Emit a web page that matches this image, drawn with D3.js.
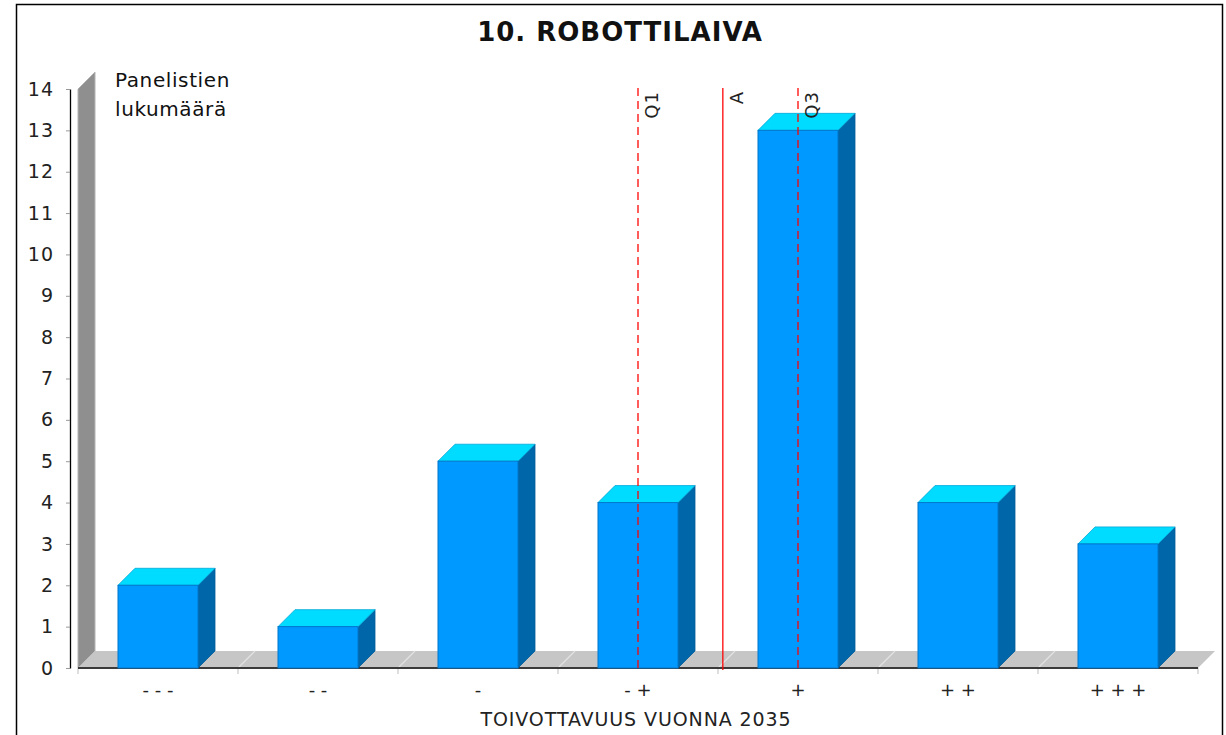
<!DOCTYPE html>
<html>
<head>
<meta charset="utf-8">
<script src="https://cdn.jsdelivr.net/npm/d3@7/dist/d3.min.js"></script>
<style>
  html, body { margin: 0; padding: 0; background: #fff; }
  svg { display: block; }
  text { font-family: "DejaVu Sans", Verdana, sans-serif; }
</style>
</head>
<body>
<svg id="chart" width="1226" height="735"></svg>
<script>
// Panel answers per desirability class
const categories = ["- - -", "- -", "-", "- +", "+", "+ +", "+ + +"];
const counts = [2, 1, 5, 4, 13, 4, 3];
const yTicks = [0, 1, 2, 3, 4, 5, 6, 7, 8, 9, 10, 11, 12, 13, 14];
// Quartiles and average on the 1..7 class scale
const markerLabels = ["Q1", "A", "Q3"];
const markerValues = [4, 4.53, 5];
const markerDashed = [true, false, true];

const titleText = "10. ROBOTTILAIVA";
const yLabelLines = ["Panelistien", "lukumäärä"];
const xLabelText = "TOIVOTTAVUUS VUONNA 2035";

const plotLeft = 78, plotRight = 1198, plotBottom = 668, plotTop = 89;
const depthX = 17, depthY = 17;

const svg = d3.select("#chart");

// outer frame
svg.append("rect")
  .attr("x", 16.5).attr("y", 4.5)
  .attr("width", 1206).attr("height", 800)
  .attr("fill", "#fff").attr("stroke", "#000").attr("stroke-width", 1.5);

const x = d3.scaleBand().domain(categories).range([plotLeft, plotRight])
  .paddingInner(0.5).paddingOuter(0.25);
const y = d3.scaleLinear().domain([0, 14]).range([plotBottom, plotTop]);
const pos = d3.scaleLinear().domain([0.5, categories.length + 0.5]).range([plotLeft, plotRight]);

// back wall (left side)
svg.append("polygon")
  .attr("points", [[plotLeft, plotBottom], [plotLeft, plotTop], [plotLeft + depthX, plotTop - depthY], [plotLeft + depthX, plotBottom - depthY]].join(" "))
  .attr("fill", "#8f8f8f").attr("stroke", "#b4b4b4").attr("stroke-width", 1);

// floor
svg.append("polygon")
  .attr("points", [[plotLeft, plotBottom], [plotLeft + depthX, plotBottom - depthY], [plotRight + depthX, plotBottom - depthY], [plotRight, plotBottom]].join(" "))
  .attr("fill", "#c6c6c6");

// faint seams on the floor at category boundaries
const bounds = d3.range(categories.length + 1).map(i => pos(i + 0.5));
svg.append("g").selectAll("line").data(bounds.slice(1, -1)).join("line")
  .attr("x1", d => d).attr("y1", plotBottom)
  .attr("x2", d => d + depthX).attr("y2", plotBottom - depthY)
  .attr("stroke", "#e2e2e2").attr("stroke-width", 1.2);

// category boundary ticks
svg.append("g").selectAll("line").data(bounds).join("line")
  .attr("x1", d => d).attr("x2", d => d)
  .attr("y1", plotBottom).attr("y2", plotBottom + 6)
  .attr("stroke", "#c8c8c8").attr("stroke-width", 1.2);

// floor front edge
svg.append("line")
  .attr("x1", plotLeft).attr("x2", plotRight).attr("y1", plotBottom).attr("y2", plotBottom)
  .attr("stroke", "#3a3a3a").attr("stroke-width", 2);

// bars
const bars = svg.append("g").selectAll("g").data(categories).join("g");
bars.append("polygon") // side face
  .attr("points", (c, i) => {
    const x1 = x(c) + x.bandwidth(), yt = y(counts[i]);
    return [[x1, yt], [x1 + depthX, yt - depthY], [x1 + depthX, plotBottom - depthY], [x1, plotBottom]].join(" ");
  })
  .attr("fill", "#0066aa").attr("stroke", "#005c99").attr("stroke-width", 0.8);
bars.append("polygon") // top face
  .attr("points", (c, i) => {
    const x0 = x(c), x1 = x0 + x.bandwidth(), yt = y(counts[i]);
    return [[x0, yt], [x0 + depthX, yt - depthY], [x1 + depthX, yt - depthY], [x1, yt]].join(" ");
  })
  .attr("fill", "#00dcff").attr("stroke", "#00a8d8").attr("stroke-width", 0.8);
bars.append("rect") // front face
  .attr("x", c => x(c))
  .attr("y", (c, i) => y(counts[i]))
  .attr("width", x.bandwidth())
  .attr("height", (c, i) => plotBottom - y(counts[i]))
  .attr("fill", "#0099ff").attr("stroke", "#0077cc").attr("stroke-width", 1);

// y axis
const yAxis = svg.append("g")
  .attr("transform", `translate(70,0)`)
  .call(d3.axisLeft(y).tickValues(yTicks).tickFormat(d3.format("d")).tickSize(4).tickSizeOuter(0).tickPadding(12));
yAxis.select(".domain").attr("stroke", "#000").attr("stroke-width", 1.3);
yAxis.selectAll(".tick line").attr("stroke", "#999");
yAxis.selectAll(".tick text")
  .attr("fill", "#222").attr("font-size", 19).attr("letter-spacing", 1)
  .attr("font-family", "DejaVu Sans, Verdana, sans-serif");

// category labels
const xAxis = svg.append("g")
  .attr("transform", `translate(0,${plotBottom})`)
  .call(d3.axisBottom(x).tickSize(0).tickPadding(15));
xAxis.select(".domain").remove();
xAxis.selectAll(".tick text")
  .attr("fill", "#222").attr("font-size", 18)
  .attr("font-family", "DejaVu Sans, Verdana, sans-serif");

// markers
const mk = svg.append("g").selectAll("g").data(markerLabels).join("g");
mk.append("line")
  .attr("x1", (d, i) => pos(markerValues[i])).attr("x2", (d, i) => pos(markerValues[i]))
  .attr("y1", plotTop - 1).attr("y2", plotBottom + 2)
  .attr("stroke", "#ff0000").attr("stroke-opacity", 0.8).attr("stroke-width", 1.6)
  .attr("stroke-dasharray", (d, i) => markerDashed[i] ? "8,5" : null);
mk.append("text")
  .attr("transform", (d, i) => `translate(${pos(markerValues[i]) + 20},${plotTop + 2}) rotate(-90)`)
  .attr("text-anchor", "end")
  .attr("font-size", 18).attr("letter-spacing", 1).attr("fill", "#222")
  .text(d => d);

// title
svg.append("text")
  .attr("x", 620).attr("y", 41)
  .attr("text-anchor", "middle")
  .attr("font-size", 26).attr("font-weight", "bold").attr("letter-spacing", 1)
  .attr("fill", "#111")
  .text(titleText);

// value axis caption
svg.append("g").selectAll("text").data(yLabelLines).join("text")
  .attr("x", 115).attr("y", (d, i) => 87 + i * 29)
  .attr("font-size", 20).attr("letter-spacing", 0.6).attr("fill", "#111")
  .text(d => d);

// category axis caption
svg.append("text")
  .attr("x", 636).attr("y", 726)
  .attr("text-anchor", "middle")
  .attr("font-size", 19).attr("letter-spacing", 0.9).attr("fill", "#222")
  .text(xLabelText);
</script>
</body>
</html>
